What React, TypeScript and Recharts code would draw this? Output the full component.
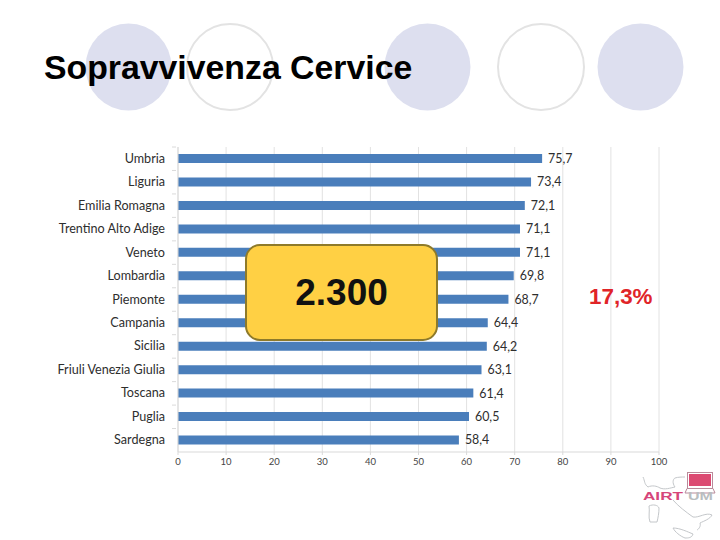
import React from "react";
import { BarChart, Bar, XAxis, YAxis, CartesianGrid, LabelList } from "recharts";

const regions = [
    "Umbria", "Liguria", "Emilia Romagna", "Trentino Alto Adige", "Veneto", "Lombardia", "Piemonte",
    "Campania", "Sicilia", "Friuli Venezia Giulia", "Toscana", "Puglia", "Sardegna",
];
const survival = [75.7, 73.4, 72.1, 71.1, 71.1, 69.8, 68.7, 64.4, 64.2, 63.1, 61.4, 60.5, 58.4];
const xTicks = [0, 10, 20, 30, 40, 50, 60, 70, 80, 90, 100];

const data = regions.map((region, i) => ({ region, value: survival[i] }));

const LABEL_FONT = "Lato, 'Open Sans', sans-serif";
const ROW = 23.42;

// category label plus the small tick Excel puts between the bars
function RegionTick({ x, y, payload }: any) {
    return (
        <g>
            <line x1={x + 9} x2={x + 13} y1={y - ROW / 2} y2={y - ROW / 2} stroke="#DADADA" />
            <text x={x + 2} y={y} dy={4} textAnchor="end" fontFamily={LABEL_FONT} fontSize={12.6} fill="#2E2E2E">
                {payload.value}
            </text>
        </g>
    );
}

function Circles() {
    const filled = [128.5, 427.5, 640.5];
    const open = [230, 541];
    return (
        <svg width={720} height={140} style={{ position: "absolute", left: 0, top: 0 }}>
            {filled.map((cx) => (
                <ellipse key={cx} cx={cx} cy={67} rx={43} ry={43.5} fill="#DDDFEF" />
            ))}
            {open.map((cx) => (
                <ellipse key={cx} cx={cx} cy={67} rx={43} ry={43} fill="#fff" stroke="#E3E3E3" strokeWidth={2} />
            ))}
        </svg>
    );
}

function Logo() {
    const outline = "#C4C7CA";
    return (
        <svg width={90} height={90} style={{ position: "absolute", left: 630, top: 450 }}>
            <path d="M13 27 C15 31 14 34 18 37 C22 35 27 36 30 38 C35 40 40 38 45 37 C42 33 43 29 45 28 C48 27 52 27 55 27" fill="none" stroke={outline} />
            <path d="M43 50 C48 56 56 62 63 67 C69 68 76 62 82 65 C80 69 74 71 70 73 C71 76 69 79 67 80" fill="none" stroke={outline} />
            <path d="M19 56 C23 54 28 55 29 58 C29 63 28 68 27 72 L20 72 C18 67 20 61 19 56 Z" fill="none" stroke={outline} />
            <path d="M43 78 C50 78 58 82 63 84 C62 88 58 88 55 88 C50 86 45 82 43 78 Z" fill="none" stroke={outline} />
            <rect x={57.5} y={22.5} width={25} height={16} fill="#fff" stroke="#B98A9A" />
            <rect x={59} y={24} width={22} height={12} fill="#DC4A72" />
            <path d="M57 38.5 L83 38.5 L85 43 L55 43 Z" fill="#fff" stroke="#B98A9A" />
            <text x={13} y={50} fontFamily="Liberation Sans" fontWeight="bold" fontSize={10} fill="#D6467A" textLength={40} lengthAdjust="spacingAndGlyphs">
                AIRT
            </text>
            <text x={58} y={50} fontFamily="Liberation Sans" fontWeight="bold" fontSize={10} fill="#B9BDC0" textLength={25} lengthAdjust="spacingAndGlyphs">
                UM
            </text>
        </svg>
    );
}

export default function App() {
    return (
        <div style={{ position: "absolute", left: 0, top: 0, width: 720, height: 540, background: "#fff", overflow: "hidden" }}>
            <Circles />
            <div style={{ position: "absolute", left: 44, top: 48, font: "bold 33.8px 'Liberation Sans', Arial, sans-serif", color: "#000", whiteSpace: "nowrap" }}>
                Sopravvivenza Cervice
            </div>
            <div style={{ position: "absolute", left: 0, top: 0 }}>
                <BarChart
                    width={720}
                    height={540}
                    layout="vertical"
                    data={data}
                    margin={{ top: 147, right: 61, bottom: 58, left: 48 }}
                >
                    <CartesianGrid horizontal={false} stroke="#E2E2E2" />
                    <XAxis
                        type="number"
                        domain={[0, 100]}
                        ticks={xTicks}
                        height={30}
                        stroke="#D9D9D9"
                        tick={{ fontSize: 9.5, fill: "#444", fontFamily: LABEL_FONT }}
                        tickLine={{ stroke: "#D9D9D9" }}
                        tickSize={3}
                        tickMargin={3}
                    />
                    <YAxis
                        type="category"
                        dataKey="region"
                        width={130}
                        stroke="#D9D9D9"
                        tick={<RegionTick />}
                        tickLine={false}
                        tickSize={13}
                        interval={0}
                    />
                    <Bar dataKey="value" fill="#4A7EBB" barSize={9} isAnimationActive={false}>
                        <LabelList
                            dataKey="value"
                            position="right"
                            offset={6}
                            formatter={(v: number) => v.toFixed(1).replace(".", ",")}
                            style={{ fontSize: 12.4, fill: "#2E2E2E", fontFamily: LABEL_FONT }}
                        />
                    </Bar>
                </BarChart>
            </div>
            <div
                style={{
                    position: "absolute", left: 245, top: 244, width: 193, height: 97, boxSizing: "border-box",
                    background: "#FFD044", border: "2px solid #8E7A2A", borderRadius: 15,
                    display: "flex", alignItems: "center", justifyContent: "center",
                    font: "bold 37px 'Liberation Sans', Arial, sans-serif", color: "#111",
                }}
            >
                2.300
            </div>
            <div style={{ position: "absolute", left: 589, top: 284, font: "bold 22.4px 'Liberation Sans', Arial, sans-serif", color: "#E02428", whiteSpace: "nowrap" }}>
                17,3%
            </div>
            <Logo />
        </div>
    );
}
